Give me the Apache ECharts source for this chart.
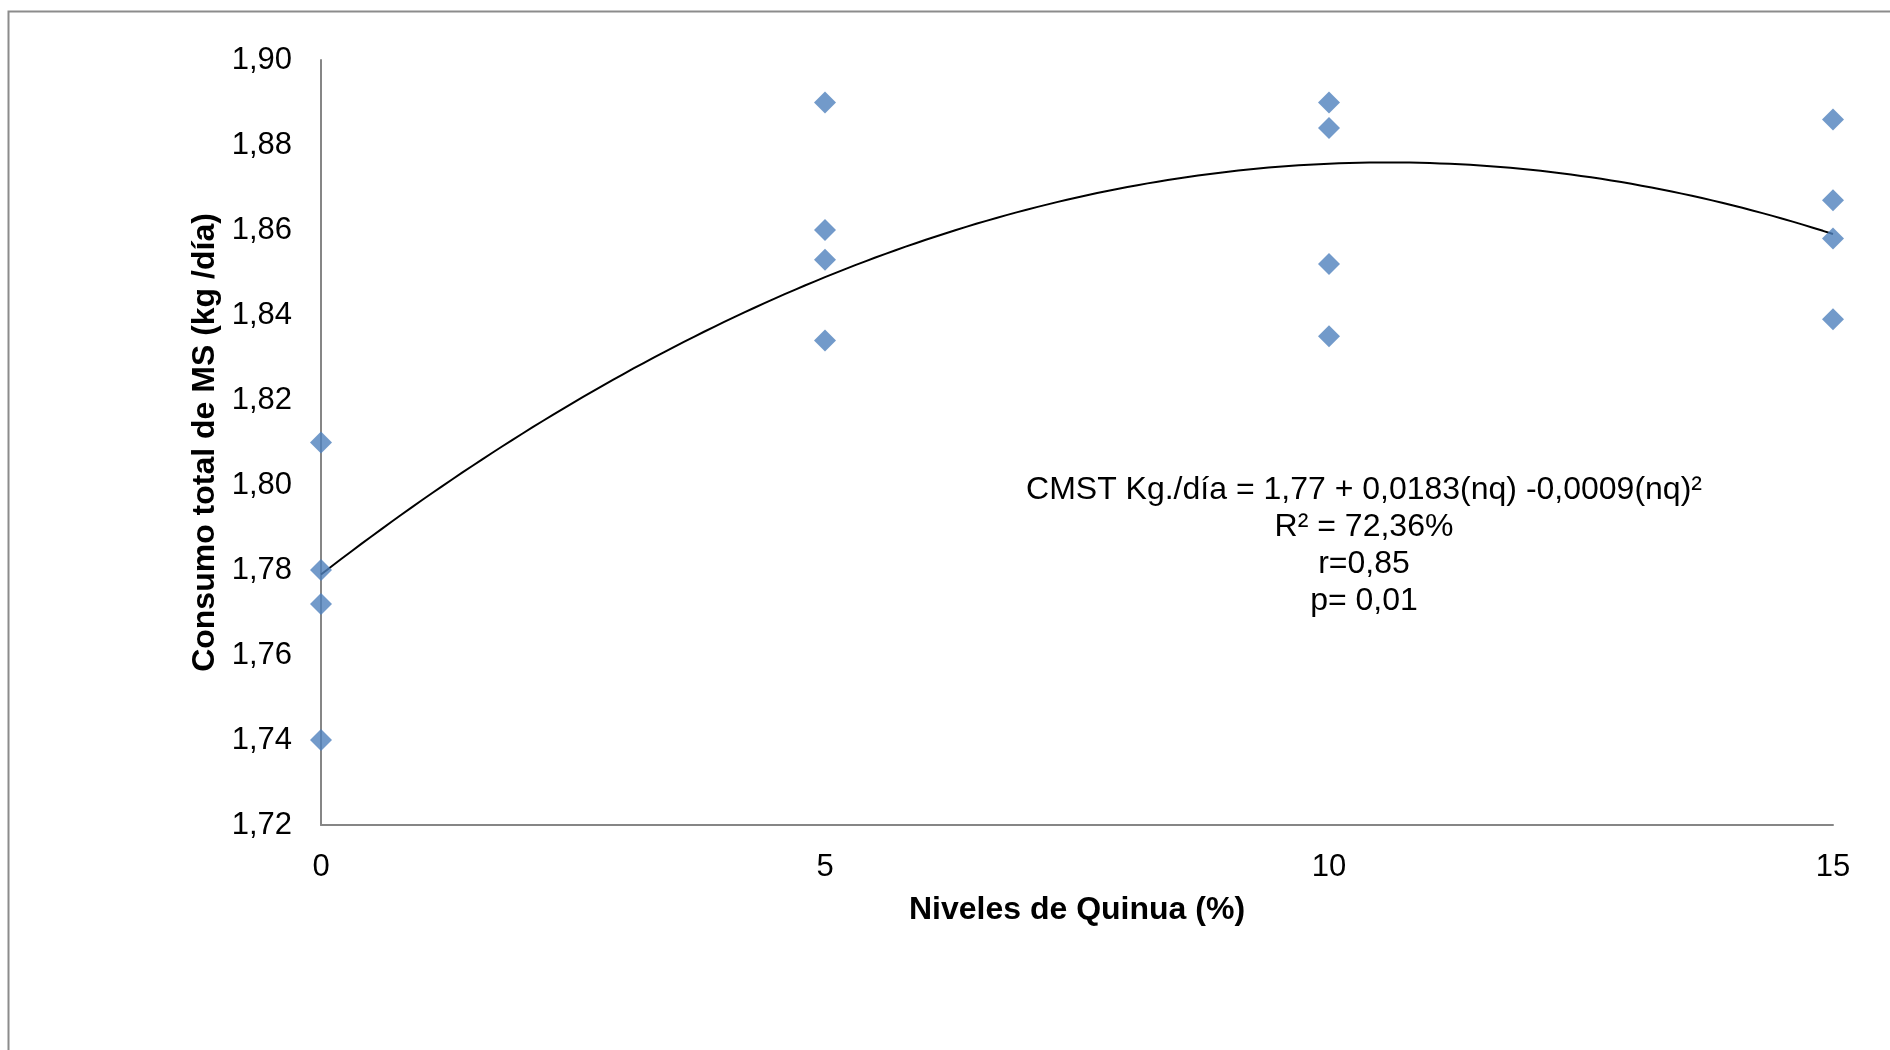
<!DOCTYPE html>
<html>
<head>
<meta charset="utf-8">
<script src="https://cdn.jsdelivr.net/npm/echarts@6/dist/echarts.min.js"></script>
<style>
html,body{margin:0;padding:0;background:#fff;}
#chart{width:1890px;height:1050px;}
</style>
</head>
<body>
<div id="chart"></div>
<script>
// Data
const levels = [0, 5, 10, 15];
const consumo0  = [1.810, 1.780, 1.772, 1.740];
const consumo5  = [1.890, 1.860, 1.853, 1.834];
const consumo10 = [1.890, 1.884, 1.852, 1.835];
const consumo15 = [1.886, 1.867, 1.858, 1.839];
const yTicks = { min: 1.72, max: 1.90, step: 0.02 };
const xTicks = { min: 0, max: 15, step: 5 };
const annotationLines = [
  'CMST Kg./día = 1,77 + 0,0183(nq) -0,0009(nq)²',
  'R² = 72,36%',
  'r=0,85',
  'p= 0,01'
];

const groups = [consumo0, consumo5, consumo10, consumo15];
const points = [];
groups.forEach((g, i) => g.forEach(v => points.push([levels[i], v])));

// Least-squares quadratic trendline (as Excel's polynomial trendline)
function quadFit(pts) {
  let S = [0,0,0,0,0], T = [0,0,0];
  pts.forEach(([x, y]) => {
    for (let k = 0; k < 5; k++) S[k] += Math.pow(x, k);
    for (let k = 0; k < 3; k++) T[k] += y * Math.pow(x, k);
  });
  const A = [[S[0],S[1],S[2],T[0]],[S[1],S[2],S[3],T[1]],[S[2],S[3],S[4],T[2]]];
  for (let i = 0; i < 3; i++) {
    let p = i;
    for (let r = i+1; r < 3; r++) if (Math.abs(A[r][i]) > Math.abs(A[p][i])) p = r;
    [A[i], A[p]] = [A[p], A[i]];
    for (let r = 0; r < 3; r++) {
      if (r === i) continue;
      const f = A[r][i] / A[i][i];
      for (let c = i; c < 4; c++) A[r][c] -= f * A[i][c];
    }
  }
  return [A[0][3]/A[0][0], A[1][3]/A[1][1], A[2][3]/A[2][2]];
}
const coef = quadFit(points);
const trend = [];
for (let i = 0; i <= 150; i++) {
  const x = xTicks.min + (xTicks.max - xTicks.min) * i / 150;
  trend.push([x, coef[0] + coef[1]*x + coef[2]*x*x]);
}

const chart = echarts.init(document.getElementById('chart'));
const font = 'Liberation Sans, Arial, Helvetica, sans-serif';
const axisGray = '#868686';

const annotationGraphics = annotationLines.map((t, i) => ({
  type: 'text', x: 1364, y: 490 + i * 37, silent: true,
  style: {
    text: t, align: 'center', verticalAlign: 'middle',
    fontFamily: font, fontSize: 32, fill: '#000'
  }
}));

chart.setOption({
  animation: false,
  backgroundColor: '#fff',
  grid: { left: 321, right: 57, top: 60, bottom: 225, containLabel: false },
  xAxis: {
    type: 'value', min: xTicks.min, max: xTicks.max, interval: xTicks.step,
    name: 'Niveles de Quinua (%)', nameLocation: 'middle', nameGap: 69,
    nameTextStyle: { fontFamily: font, fontSize: 32, fontWeight: 'bold', color: '#000' },
    axisLine: { show: true, lineStyle: { color: axisGray, width: 2 } },
    axisTick: { show: false },
    splitLine: { show: false },
    axisLabel: { fontFamily: font, fontSize: 31, color: '#000', margin: 27 }
  },
  yAxis: {
    type: 'value', min: yTicks.min, max: yTicks.max, interval: yTicks.step,
    name: 'Consumo total de MS (kg /día)', nameLocation: 'middle', nameGap: 96,
    nameTextStyle: { fontFamily: font, fontSize: 32, fontWeight: 'bold', color: '#000' },
    axisLine: { show: true, lineStyle: { color: axisGray, width: 2 } },
    axisTick: { show: false },
    splitLine: { show: false },
    axisLabel: {
      fontFamily: font, fontSize: 31, color: '#000', margin: 29,
      formatter: v => v.toFixed(2).replace('.', ',')
    }
  },
  series: [
    {
      type: 'line', data: trend, showSymbol: false, smooth: false,
      lineStyle: { color: '#000', width: 2 }, z: 2, silent: true
    },
    {
      type: 'scatter', data: points, symbol: 'diamond', symbolSize: 22,
      itemStyle: { color: '#4F81BD' }, z: 3
    }
  ],
  graphic: [
    {
      type: 'polyline', silent: true,
      shape: { points: [[8.5, 1050], [8.5, 11.5], [1890, 11.5]] },
      style: { stroke: '#8c8c8c', lineWidth: 2, fill: null }
    }
  ].concat(annotationGraphics)
});
</script>
</body>
</html>
